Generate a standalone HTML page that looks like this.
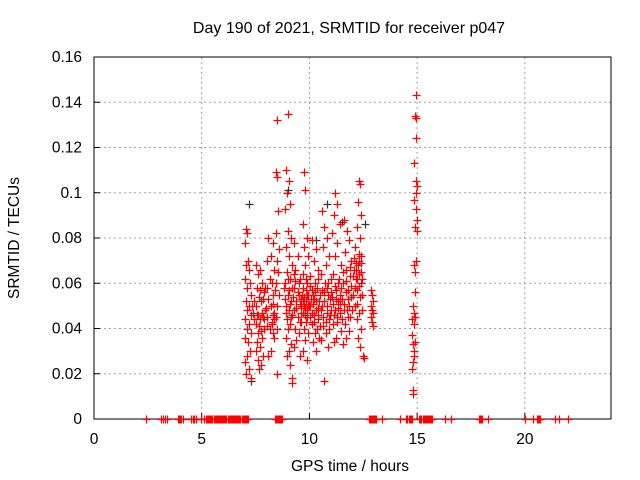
<!DOCTYPE html>
<html><head><meta charset="utf-8">
<style>
body{margin:0;background:#fff;}
svg{display:block;font-family:"Liberation Sans",sans-serif;}
</style></head>
<body>
<svg id="chart" width="640" height="480">
<rect x="0" y="0" width="640" height="480" fill="#fff"/>
<text x="349" y="33" font-size="16" text-anchor="middle" fill="#000">Day 190 of 2021, SRMTID for receiver p047</text>
<text x="350" y="471" font-size="15.5" text-anchor="middle" fill="#000">GPS time / hours</text>
<text x="0" y="0" font-size="15.5" text-anchor="middle" fill="#000" transform="translate(19,238) rotate(-90)">SRMTID / TECUs</text>
<g id="grid"></g>
<g id="ticks"></g>
<rect x="94" y="57" width="517" height="362" fill="none" stroke="#000" stroke-width="1"/>
<g id="marks"></g>
</svg>
<script>
const xTicks=[0,5,10,15,20];
const yTicks=[0,0.02,0.04,0.06,0.08,0.1,0.12,0.14,0.16];
const yTickLabels=["0","0.02","0.04","0.06","0.08","0.1","0.12","0.14","0.16"];
const redPoints=[
[7.05,.084],[7.1,.082],[7.0,.078],[7.15,.070],[7.05,.068],[7.2,.066],[7.0,.062],[7.25,.060],[7.1,.058],[7.3,.055],[7.05,.052],[7.2,.050],[7.1,.048],[7.3,.046],[7.0,.044],[7.2,.042],[7.1,.040],[7.3,.038],[7.0,.036],[7.15,.034],[7.25,.030],[7.1,.028],[7.0,.025],[7.2,.022],[7.05,.020],[7.3,.018],
[7.5,.068],[7.7,.066],[7.6,.064],[7.8,.060],[7.55,.058],[7.9,.056],[7.65,.054],[7.75,.052],[7.5,.050],[7.95,.048],[7.6,.046],[7.85,.045],[7.7,.044],[7.5,.042],[7.9,.040],[7.6,.038],[7.8,.036],[7.55,.034],[7.7,.032],[7.5,.030],[7.85,.028],[7.6,.026],[7.75,.024],[7.65,.022],[7.45,.052],[7.8,.047],[7.9,.044],[7.55,.046],
[8.1,.080],[8.3,.078],[8.2,.072],[8.05,.070],[8.35,.066],[8.15,.062],[8.25,.060],[8.05,.058],[8.3,.055],[8.1,.053],[8.2,.050],[8.35,.047],[8.05,.045],[8.25,.043],[8.15,.040],[8.3,.038],[8.2,.030],[8.1,.028],[8.3,.046],[8.35,.044],[8.25,.042],
[8.5,.132],[8.45,.109],[8.5,.107],[8.55,.092],[8.45,.082],[8.6,.075],[8.5,.070],[8.55,.065],[8.45,.060],[8.6,.055],[8.5,.050],[8.5,.020],
[9.0,.135],[8.9,.110],[9.05,.105],[8.95,.100],[9.1,.095],[8.85,.093],[9.0,.083],[9.15,.080],[8.9,.076],[9.05,.072],[9.2,.068],[8.95,.065],[9.1,.062],[8.85,.060],[9.2,.058],[9.0,.055],[9.15,.052],[8.9,.050],[9.05,.048],[9.2,.046],[8.95,.044],[9.1,.042],[9.0,.040],[8.9,.036],[9.15,.033],[9.05,.030],[8.95,.028],[9.1,.024],[9.2,.018],[9.2,.016],
[9.3,.078],[9.45,.072],[9.35,.066],[9.55,.062],[9.3,.058],[9.5,.055],[9.4,.052],[9.6,.050],[9.3,.048],[9.45,.045],[9.55,.043],[9.35,.040],[9.5,.038],[9.4,.035],[9.3,.032],[9.55,.028],[9.45,.056],[9.6,.053],[9.35,.061],
[9.75,.109],[9.8,.101],[9.7,.086],[9.9,.080],[9.75,.076],[9.95,.072],[9.8,.068],[9.7,.064],[9.9,.060],[9.85,.057],[9.75,.054],[9.95,.051],[9.8,.049],[9.7,.047],[9.9,.045],[9.85,.043],[9.75,.040],[9.95,.038],[9.8,.035],[9.7,.030],[9.9,.026],[9.85,.052],[9.9,.055],[9.75,.050],
[10.1,.079],[10.3,.075],[10.2,.070],[10.4,.066],[10.05,.063],[10.25,.060],[10.35,.058],[10.15,.055],[10.45,.052],[10.05,.050],[10.3,.048],[10.2,.046],[10.4,.044],[10.1,.042],[10.35,.040],[10.25,.038],[10.45,.036],[10.15,.034],[10.3,.030],[10.2,.053],[10.1,.057],[10.4,.049],
[10.6,.092],[10.7,.085],[10.8,.080],[10.65,.076],[10.9,.072],[10.75,.068],[10.55,.064],[10.85,.060],[10.7,.056],[10.95,.053],[10.6,.050],[10.8,.047],[10.9,.044],[10.65,.041],[10.75,.038],[10.55,.035],[10.85,.032],[10.7,.017],[10.95,.046],[10.8,.058],
[11.2,.100],[11.3,.095],[11.15,.090],[11.4,.086],[11.05,.082],[11.3,.078],[11.2,.072],[11.45,.068],[11.1,.064],[11.35,.060],[11.25,.057],[11.05,.054],[11.4,.051],[11.2,.048],[11.3,.045],[11.1,.042],[11.45,.039],[11.25,.036],[11.15,.034],[11.35,.052],[11.4,.055],
[11.6,.088],[11.75,.083],[11.85,.079],[11.65,.074],[11.95,.070],[11.7,.066],[11.9,.063],[11.55,.060],[11.8,.057],[11.95,.054],[11.6,.051],[11.75,.048],[11.9,.045],[11.65,.042],[11.85,.039],[11.7,.036],[11.55,.033],[11.8,.053],
[12.3,.105],[12.35,.104],[12.25,.096],[12.4,.090],[12.2,.085],[12.35,.080],[12.1,.076],[12.4,.072],[12.25,.068],[12.05,.066],[12.3,.064],[12.15,.062],[12.4,.060],[12.2,.057],[12.35,.054],[12.1,.050],[12.3,.047],[12.2,.044],[12.4,.040],[12.25,.036],[12.35,.032],[12.5,.028],[12.55,.027],[12.45,.062],[12.15,.069],
[12.85,.057],[12.9,.055],[12.85,.050],[12.95,.047],[12.85,.045],[12.9,.043],[12.95,.041],
[14.95,.143],[14.9,.134],[14.95,.133],[14.95,.124],[14.85,.113],[14.95,.105],[15.0,.103],[14.95,.100],[14.85,.097],[14.95,.093],[15.0,.088],[14.9,.085],[15.0,.083],[14.95,.070],[14.85,.068],[14.9,.065],[14.9,.056],[14.8,.050],[14.85,.042],[14.75,.037],[14.8,.033],[14.85,.030],[14.8,.025],[14.75,.022],[14.8,.013],[14.8,.011],[14.85,.047],[14.75,.044]
];
const redPointsDense=[
[7.4,.047],[7.45,.044],[7.35,.050],[7.65,.041],[7.75,.039],[7.85,.053],[7.95,.058],[8.0,.049],[8.05,.041],[7.7,.057],
[9.5,.060],[9.55,.051],[9.6,.047],[9.65,.055],[9.62,.043],[9.68,.058],[9.7,.052],[9.78,.046],[9.82,.062],[9.88,.048],
[9.95,.055],[10.0,.050],[10.02,.045],[10.05,.059],[10.08,.053],[10.12,.047],[10.18,.051],[10.22,.043],[10.28,.056],[10.32,.052],
[10.38,.046],[10.42,.062],[10.48,.055],[10.5,.041],[10.52,.048],[10.58,.057],[10.62,.045],[10.68,.052],[10.72,.060],[10.78,.043],
[10.82,.050],[10.88,.055],[10.92,.040],[10.98,.062],[11.0,.048],[11.02,.056],[11.08,.051],[11.12,.046],[11.18,.059],[11.22,.053],
[11.28,.043],[11.32,.049],[11.38,.062],[11.42,.047],[11.48,.058],[11.5,.044],[11.52,.053],[11.58,.065],[11.62,.048],[11.68,.056],
[11.72,.061],[11.78,.045],[11.82,.050],[11.88,.067],[11.92,.059],[11.98,.048],[12.0,.063],[12.02,.055],[12.08,.071],[12.12,.058],
[12.18,.066],[12.22,.051],[12.28,.073],[12.32,.059],[12.38,.065],[12.42,.055],[12.45,.048],[12.4,.069],[12.3,.070],[12.2,.062],
[8.8,.058],[8.85,.053],[8.9,.047],[9.0,.062],[9.05,.057],[9.1,.051],[9.15,.045],[9.25,.054],[9.3,.064],[9.4,.049],
[8.3,.051],[8.4,.057],[8.35,.036],[8.45,.045],[8.5,.040],[12.9,.048],[12.95,.052],[14.9,.034],[14.85,.028],[14.9,.045]
];
const zeroHours=[2.43,3.1,3.2,3.3,3.4,3.9,3.95,4.0,4.05,4.15,4.5,4.6,4.65,4.75,4.95,5.1,
5.2,5.25,5.3,5.35,5.4,5.45,5.5,5.55,5.6,5.65,5.7,5.75,5.8,5.85,5.9,5.95,6.0,6.05,6.1,6.15,6.2,6.25,6.3,6.35,6.4,6.45,6.5,6.55,6.6,6.65,6.7,6.75,6.8,6.85,6.9,6.95,7.0,7.05,7.1,7.15,
8.4,8.45,8.5,8.55,8.6,8.65,8.7,8.75,12.75,12.8,12.85,12.9,12.95,13.0,13.05,13.1,13.35,14.2,14.5,14.55,14.6,14.65,14.7,14.75,
15.1,15.15,15.2,15.25,15.3,15.35,15.4,15.45,15.5,15.55,15.6,15.65,15.7,16.3,16.55,17.85,17.9,17.95,18.0,18.3,20.0,20.4,20.55,20.6,20.65,20.7,21.4,21.6,22.0];
const blackPoints=[[7.2,.095],[7.3,.017],[9.0,.101],[10.8,.095],[11.5,.087],[10.3,.079],[12.6,.086]];

const X0=94,X1=611,Y0=419,Y1=57,XMAX=24,YMAX=0.16;
function sx(h){return X0+(h/XMAX)*(X1-X0);}
function sy(v){return Y0-(v/YMAX)*(Y0-Y1);}
const NS="http://www.w3.org/2000/svg";
const grid=document.getElementById('grid'),ticks=document.getElementById('ticks'),marks=document.getElementById('marks');
function mk(tag,attrs,parent){const e=document.createElementNS(NS,tag);for(const k in attrs)e.setAttribute(k,attrs[k]);parent.appendChild(e);return e;}
xTicks.forEach(t=>{
  const x=sx(t);
  if(t>0){const g=mk('line',{x1:x,x2:x,y1:Y0,y2:Y1,stroke:'#a0a0a0','stroke-dasharray':'2,3','stroke-width':1},grid);
  
  }
  const tk=mk('line',{x1:x,x2:x,y1:Y0,y2:Y0-6,stroke:'#000'},ticks);
  
  
  const lb=mk('text',{x:x,y:Y0+25,'font-size':15.5,'text-anchor':'middle',fill:'#000'},ticks);
  lb.textContent=String(t);
  
  
});
yTicks.forEach((t,i)=>{
  const y=sy(t);
  if(i>0&&i<yTicks.length-1){const g=mk('line',{x1:X0,x2:X1,y1:y,y2:y,stroke:'#a0a0a0','stroke-dasharray':'2,3','stroke-width':1},grid);
  
  }
  const tk=mk('line',{x1:X0,x2:X0+6,y1:y,y2:y,stroke:'#000'},ticks);
  
  
  const lb=mk('text',{x:X0-12,y:y+5,'font-size':15.5,'text-anchor':'end',fill:'#000'},ticks);
  lb.textContent=yTickLabels[i];
  
  
});
function plus(h,v,color,name){
  const x=Math.round(sx(h))+0.5,y=Math.round(sy(v))+0.5;
  const p=mk('path',{d:`M${x-4},${y}H${x+4}M${x},${y-4}V${y+4}`,stroke:color,'stroke-width':1.2,fill:'none'},marks);
  
  
}
blackPoints.forEach(p=>plus(p[0],p[1],'#333','black-point'));
redPoints.forEach(p=>plus(p[0],p[1],'#ff0000','red-point'));
redPointsDense.forEach(p=>plus(p[0],p[1],'#ff0000','red-point'));
zeroHours.forEach(h=>plus(h,0,'#ff0000','zero-point'));
</script>
</body></html>
